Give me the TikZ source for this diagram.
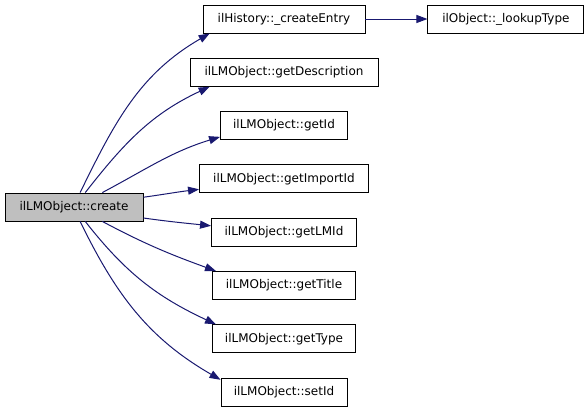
\documentclass[tikz,border=0pt]{standalone}
\usepackage{fontspec}
\setmainfont{DejaVu Sans}
\usetikzlibrary{arrows.meta, positioning}
\definecolor{edgeblue}{RGB}{25,25,112}
\definecolor{callergray}{RGB}{191,191,191}

\begin{document}
\begin{tikzpicture}[x=1pt, y=-1pt,
            func/.style={rectangle, draw=black, line width=0.9pt, minimum height=28pt,
                         inner sep=0pt, font=\fontsize{12}{14}\selectfont},
            root/.style={func, fill=callergray},
            call/.style={-{Triangle[length=11pt,width=8pt]}, line width=1pt, draw=edgeblue}
        ]
            \useasboundingbox (0,0) rectangle (587,413);

            % --- Nodos (caller y columna de callees) ---
            \node[root, minimum width=138pt] (create) at (74,207) {ilLMObject::create};
            \node[func, minimum width=162pt] (entry) at (284,19) {ilHistory::\_createEntry};
            \node[func, minimum width=156pt, right=62pt of entry]     (lookup)   {ilObject::\_lookupType};
            \node[func, minimum width=188pt, below=24.4pt of entry]   (descr)    {ilLMObject::getDescription};
            \node[func, minimum width=127pt, below=24.4pt of descr]   (getid)    {ilLMObject::getId};
            \node[func, minimum width=169pt, below=24.4pt of getid]   (importid) {ilLMObject::getImportId};
            \node[func, minimum width=145pt, below=24.4pt of importid](lmid)     {ilLMObject::getLMId};
            \node[func, minimum width=143pt, below=24.4pt of lmid]    (title)    {ilLMObject::getTitle};
            \node[func, minimum width=143pt, below=24.4pt of title]   (gettype)  {ilLMObject::getType};
            \node[func, minimum width=126pt, below=24.4pt of gettype] (setid)    {ilLMObject::setId};

            % --- Enlaces ---
            \draw[call] (entry) -- (lookup);

            \draw[call] (create.67)  to[out=64,  in=210] (entry.191);
            \draw[call] (create.52)  to[out=52,  in=205] (descr.191);
            \draw[call] (create.27)  to[out=28,  in=197] (getid.190);
            \draw[call] (create.8)   to[out=8,   in=187] (importid.187);
            \draw[call] (create.-9)  to[out=-8,  in=174] (lmid.175);
            \draw[call] (create.-27) to[out=-28, in=160] (title.168);
            \draw[call] (create.-52) to[out=-52, in=155] (gettype.168);
            \draw[call] (create.-67) to[out=-64, in=150] (setid.169);

        \end{tikzpicture}
\end{document}
